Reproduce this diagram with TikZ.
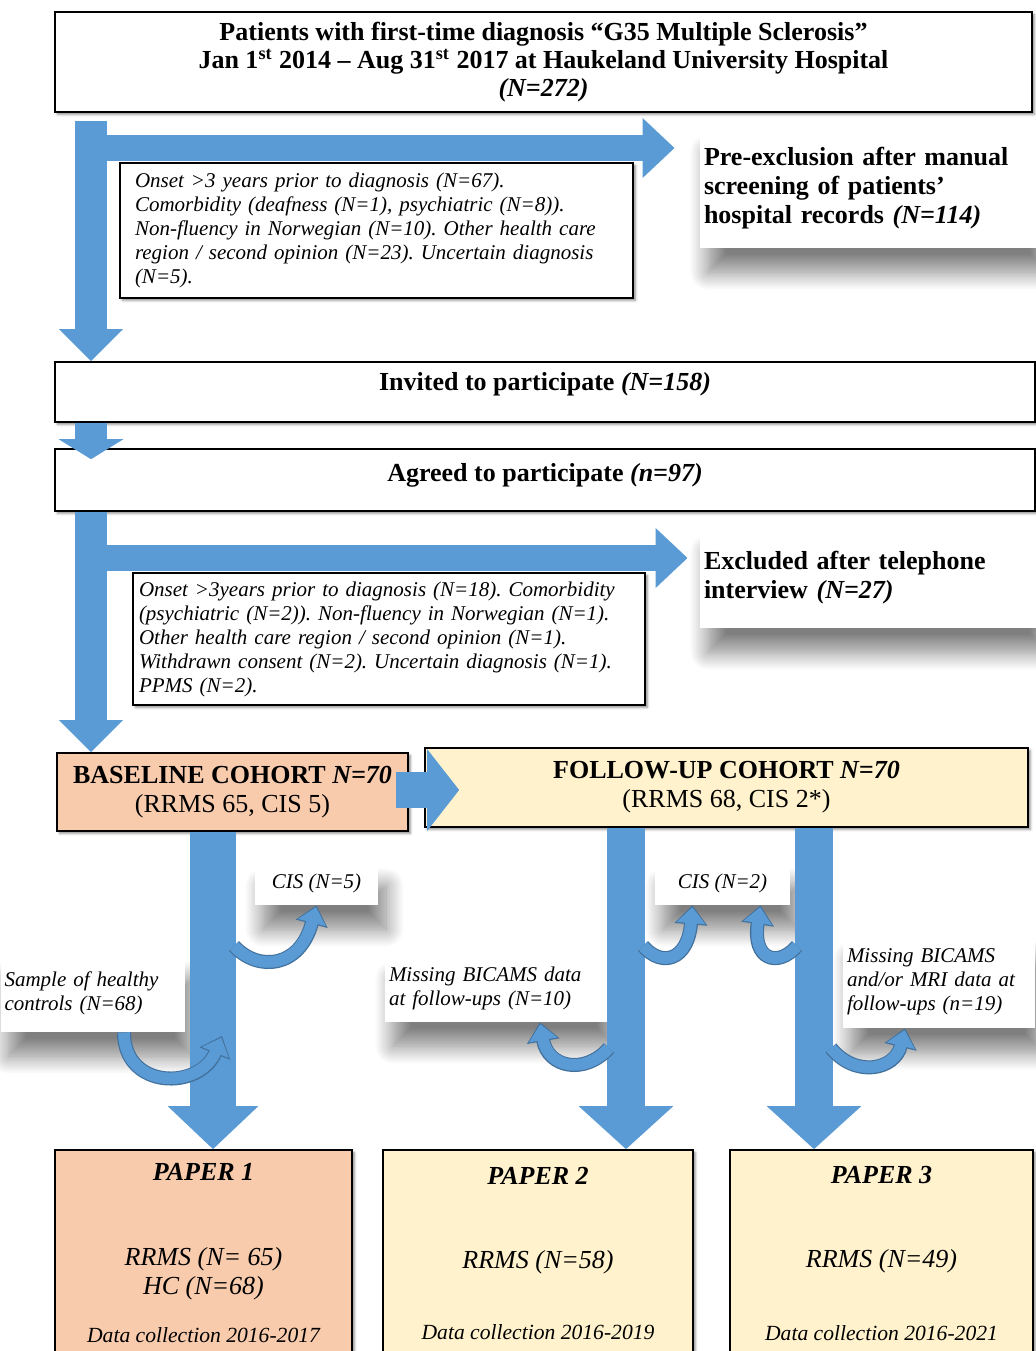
\documentclass[tikz,border=0pt]{standalone}
\usepackage{fontspec}
\setmainfont{Liberation Serif}
\usepackage{tikz}
\usepackage{xcolor}
\definecolor{oblue}{RGB}{91,155,213}
\definecolor{oedge}{RGB}{65,113,156}
\definecolor{osalmon}{RGB}{248,203,173}
\definecolor{oyellow}{RGB}{255,242,204}
\usetikzlibrary{arrows.meta}
\usetikzlibrary{shadows.blur}

\newcommand{\titlefont}{\fontsize{13}{14}\selectfont\bfseries}
\newcommand{\headfont}{\fontsize{13}{14.5}\selectfont\bfseries}
\newcommand{\notefont}{\fontsize{10.5}{12}\selectfont\itshape}
\newcommand{\paperfont}{\fontsize{13}{14.5}\selectfont\itshape}
\newcommand{\datafont}{\fontsize{10.8}{12}\selectfont}
\frenchspacing

\begin{document}
\begin{tikzpicture}[x=0.5pt, y=-0.5pt]
\tikzstyle{mainBox} = [
  draw = black,
  line width = 0.8pt,
  fill = white,
  inner sep = 3pt,
  blur shadow = {shadow xshift=1.2pt, shadow yshift=-1.2pt, shadow blur radius=1.2pt, shadow opacity=45}
]
\tikzstyle{labelBox} = [
  fill = white,
  inner sep = 2pt,
  align = left,
  blur shadow = {shadow xshift=4pt, shadow yshift=-12pt, shadow blur radius=9pt, shadow blur steps=16, shadow opacity=50}
]
\tikzstyle{flowMain} = [
  draw = oblue,
  line width = 16pt,
  -{Triangle[width=31pt,length=16pt]}
]
\tikzstyle{flowSide} = [
  draw = oblue,
  line width = 13pt,
  -{Triangle[width=29pt,length=16pt]}
]
\tikzstyle{flowWide} = [
  draw = oblue,
  line width = 21pt,
  -{Triangle[width=44pt,length=21.5pt]}
]
\tikzstyle{bendEdge} = [
  draw = oedge,
  line width = 7pt,
  -{Triangle[width=16pt,length=9.5pt]}
]
\tikzstyle{bendArrow} = [
  draw = oblue,
  line width = 5.8pt,
  shorten > = 0.9pt,
  -{Triangle[width=14pt,length=8pt]}
]

\useasboundingbox (0,0) rectangle (1035,1351);

% shadowed labels beside the flow
\node[labelBox, font=\headfont, text width=166pt, minimum height=60pt] (pre) at (870,188)
  {Pre-exclusion after manual\\ screening of patients’\\ hospital records \textit{(N=114)}};
\node[labelBox, font=\headfont, text width=166pt, minimum height=50pt] (excl) at (870,578)
  {Excluded after telephone\\ interview \textit{(N=27)}};
\node[labelBox, font=\notefont, align=center, minimum width=61.5pt, minimum height=21.5pt] (cis5) at (316.5,883.5) {CIS (N=5)};
\node[labelBox, font=\notefont, text width=88pt, minimum height=38.5pt] (hc) at (92.5,993.5)
  {Sample of healthy\\ controls (N=68)};
\node[labelBox, font=\notefont, align=center, minimum width=67.5pt, minimum height=21.5pt] (cis2) at (722.5,883.5) {CIS (N=2)};
\node[labelBox, font=\notefont, text width=107pt, minimum height=33.5pt] (miss10) at (496,988.5)
  {Missing BICAMS data\\ at follow-ups (N=10)};
\node[labelBox, font=\notefont, text width=92pt, minimum height=46.5pt] (miss19) at (939,981.5)
  {Missing BICAMS\\ and/or MRI data at\\ follow-ups (n=19)};

% main boxes
\node[mainBox, font=\titlefont, align=center, minimum width=488.5pt, minimum height=50pt] (top) at (543.5,62)
  {Patients with first-time diagnosis “G35 Multiple Sclerosis”\\
   Jan 1\textsuperscript{st} 2014 – Aug 31\textsuperscript{st} 2017 at Haukeland University Hospital\\
   \textit{(N=272)}};
\node[mainBox, font=\notefont, align=left, text width=241.5pt, inner xsep=7.5pt, minimum height=67.5pt] (excl1) at (376.5,230.5)
  {Onset >3 years prior to diagnosis (N=67).\\
   Comorbidity (deafness (N=1), psychiatric (N=8)).\\
   Non-fluency in Norwegian (N=10). Other health care\\
   region / second opinion (N=23). Uncertain diagnosis\\
   (N=5).};
\node[mainBox, font=\headfont, minimum width=490pt, text height=11.25pt, text depth=12.75pt] (invited) at (545,392)
  {Invited to participate \textit{(N=158)}};
\node[mainBox, font=\headfont, minimum width=490pt, text height=13.25pt, text depth=11.75pt] (agreed) at (545,480)
  {Agreed to participate \textit{(n=97)}};
\node[mainBox, font=\notefont, align=left, text width=250pt, inner xsep=3pt, minimum height=66pt] (excl2) at (389,639)
  {Onset >3years prior to diagnosis (N=18). Comorbidity\\
   (psychiatric (N=2)). Non-fluency in Norwegian (N=1).\\
   Other health care region / second opinion (N=1).\\
   Withdrawn consent (N=2). Uncertain diagnosis (N=1).\\
   PPMS (N=2).};
\node[mainBox, fill=osalmon, font=\headfont, align=center, minimum width=175.5pt, minimum height=39pt] (base) at (232.5,792)
  {BASELINE COHORT \textit{N=70}\\ \mdseries (RRMS 65, CIS 5)};
\node[mainBox, fill=oyellow, font=\headfont, align=center, minimum width=301.5pt, minimum height=39.5pt] (follow) at (726.5,787.5)
  {FOLLOW-UP COHORT \textit{N=70}\\ \mdseries (RRMS 68, CIS 2*)};
\node[mainBox, fill=osalmon, font=\paperfont, align=center, minimum width=148.5pt, minimum height=103pt] (paper1) at (203.5,1253)
  {\textbf{PAPER 1}\\[28pt] RRMS (N= 65)\\ HC (N=68)\\[9.5pt] {\datafont Data collection 2016-2017}};
\node[mainBox, fill=oyellow, font=\paperfont, align=center, minimum width=155pt, minimum height=103pt] (paper2) at (538,1253)
  {\textbf{PAPER 2}\\[27.5pt] RRMS (N=58)\\[21pt] {\datafont Data collection 2016-2019}};
\node[mainBox, fill=oyellow, font=\paperfont, align=center, minimum width=151.5pt, minimum height=103pt] (paper3) at (881.5,1253)
  {\textbf{PAPER 3}\\[27.5pt] RRMS (N=49)\\[22pt] {\datafont Data collection 2016-2021}};

% lanes of the block arrows
\coordinate (lane) at (91,0);
\coordinate (side1) at (91,148);
\coordinate (side2) at (91,558);
\coordinate (joinrow) at (0,790);
\coordinate (col1) at (213,0);
\coordinate (col2) at (626,0);
\coordinate (col3) at (814,0);

\draw[flowMain, shorten <=4pt] (top.south -| lane) -- (invited.north -| lane);
\draw[flowSide] (side1) -- ([xshift=-12.5pt]pre.west |- side1);
\draw[draw=oblue, line width=16pt, -{Triangle[width=32pt,length=10pt]}, shorten >=-5.5pt] (invited.south -| lane) -- (agreed.north -| lane);
\draw[flowMain] (agreed.south -| lane) -- (base.north -| lane);
\draw[flowSide] (side2) -- ([xshift=-6pt]excl.west |- side2);
\draw[draw=oblue, line width=18pt, -{Triangle[width=40pt,length=16pt]}] ([xshift=-6.5pt]base.east |- joinrow) -- ([xshift=17.5pt]follow.west |- joinrow);
\draw[flowWide, line width=23pt] (base.south -| col1) -- (paper1.north -| col1);
\draw[flowWide, line width=19pt, -{Triangle[width=46pt,length=21.5pt]}] (follow.south -| col2) -- (paper2.north -| col2);
\draw[flowWide, line width=19pt, -{Triangle[width=46pt,length=21.5pt]}] (follow.south -| col3) -- (paper3.north -| col3);

% side branches
\coordinate (b1) at (234,946);
\coordinate (b2) at (222,1036);
\coordinate (b3) at (643,946);
\coordinate (b4) at (797,946);
\coordinate (b5) at (609,1048);
\coordinate (b6) at (831,1048);

\foreach \s in {bendEdge, bendArrow} {
  \draw[\s] (b1) .. controls (258,972) and (300,968) .. (cis5.south);
  \draw[\s] ([xshift=15.75pt]hc.south) .. controls (124,1090) and (200,1090) .. (b2);
  \draw[\s] (b3) .. controls (662,968) and (688,960) .. ([xshift=-15pt]cis2.south);
  \draw[\s] (b4) .. controls (778,968) and (752,960) .. ([xshift=19pt]cis2.south);
  \draw[\s] (b5) .. controls (585,1075) and (548,1068) .. ([xshift=22pt]miss10.south);
  \draw[\s] (b6) .. controls (855,1078) and (895,1070) .. ([xshift=-17pt]miss19.south);
}

\end{tikzpicture}
\end{document}
